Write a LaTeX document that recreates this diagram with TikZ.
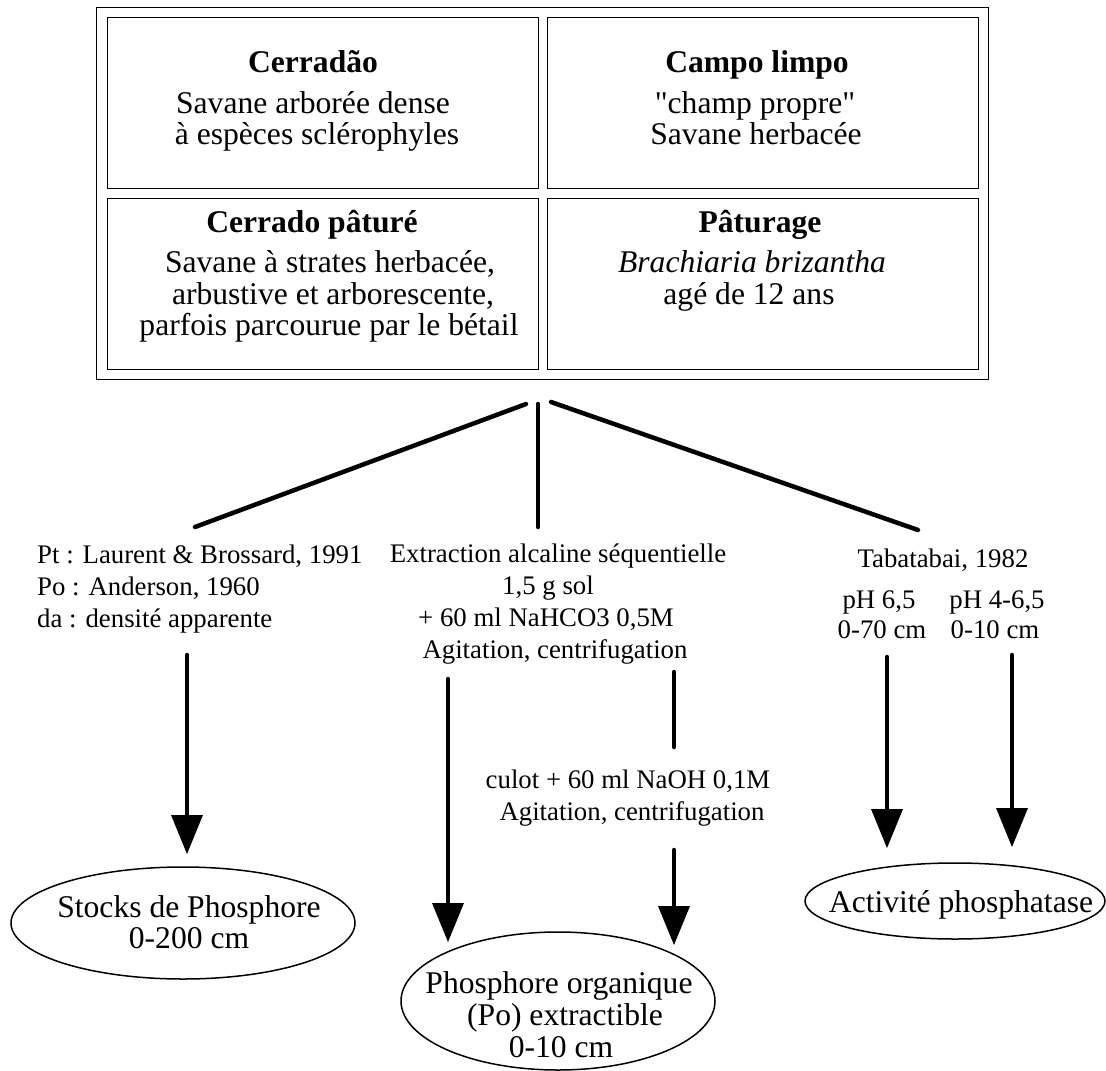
\documentclass[tikz,border=0pt]{standalone}
\usepackage{fontspec}
\setmainfont{Liberation Serif}
\font\qfnt="Liberation Serif" at 31.6pt
\usetikzlibrary{shapes.geometric,arrows.meta}
\begin{document}
\begin{tikzpicture}[x=1pt,y=-1pt,
  cell/.style={draw, line width=1.3pt, rectangle, inner sep=0pt, anchor=north west},
  big/.style={font=\fontsize{31.6}{31.6}\selectfont, inner sep=0pt, anchor=base},
  bigb/.style={font=\fontsize{31.6}{31.6}\selectfont\bfseries, inner sep=0pt, anchor=base},
  bigi/.style={font=\fontsize{31.6}{31.6}\selectfont\itshape, inner sep=0pt, anchor=base},
  small/.style={font=\fontsize{26.8}{32}\selectfont, inner sep=0pt, anchor=base},
  smallw/.style={font=\fontsize{26.8}{32}\selectfont, inner sep=0pt, anchor=base west},
  conn/.style={line width=4.5pt, line cap=round},
  arr/.style={conn, -{Triangle[width=32pt,length=39pt,line width=0pt]}},
  oval/.style={draw, ellipse, line width=1.5pt, inner sep=0pt}
]
\useasboundingbox (0,0) rectangle (1106,1071);

% frame and cells
\node[cell, minimum width=892pt, minimum height=372pt] (frame) at (96,7) {};
\node[cell, minimum width=431pt, minimum height=171pt] (c1) at (107,17) {};
\node[cell, minimum width=431pt, minimum height=171pt] (c2) at (547,17) {};
\node[cell, minimum width=431pt, minimum height=171pt] (c3) at (107,198) {};
\node[cell, minimum width=431pt, minimum height=171pt] (c4) at (547,198) {};

% cell texts
\node[bigb] (t1a) at (313,72) {Cerradão};
\node[big]  (t1b) at (313,113) {Savane arborée dense};
\node[big]  (t1c) at (317,144) {à espèces sclérophyles};

\node[bigb] (t2a) at (757,72) {Campo limpo};
\node[big]  (t2b) at (755,113) {{\qfnt"}champ propre{\qfnt"}};
\node[big]  (t2c) at (756,144) {Savane herbacée};

\node[bigb] (t3a) at (312,232) {Cerrado pâturé};
\node[big]  (t3b) at (330,272) {Savane à strates herbacée,};
\node[big]  (t3c) at (333,304) {arbustive et arborescente,};
\node[big]  (t3d) at (329,335) {parfois parcourue par le bétail};

\node[bigb] (t4a) at (760,232) {Pâturage};
\node[bigi] (t4b) at (752,272) {Brachiaria brizantha};
\node[big]  (t4c) at (749,304) {agé de 12 ans};

% branching connectors
\coordinate (apexL) at (526,404);
\coordinate (apexM) at (538,404);
\coordinate (apexR) at (551,402);
\coordinate (footL) at (195,527);
\coordinate (footM) at (538,527);
\coordinate (footR) at (918,530);
\draw[conn] (apexL) -- (footL);
\draw[conn] (apexM) -- (footM);
\draw[conn] (apexR) -- (footR);

% method texts
\node[smallw] (m1a) at (37,563) {Pt : Laurent \& Brossard, 1991};
\node[smallw] (m1b) at (37,595) {Po : Anderson, 1960};
\node[smallw] (m1c) at (37,627) {da : densité apparente};

\node[small] (m2a) at (558,562) {Extraction alcaline séquentielle};
\node[small] (m2b) at (548,594) {1,5 g sol};
\node[small] (m2c) at (546,626) {+ 60 ml NaHCO3 0,5M};
\node[small] (m2d) at (555,658) {Agitation, centrifugation};

\node[small] (m3a) at (628,788) {culot + 60 ml NaOH 0,1M};
\node[small] (m3b) at (632,820) {Agitation, centrifugation};

\node[small] (m4a) at (943,567) {Tabatabai, 1982};
\node[small] (m4b) at (879,608) {pH 6,5};
\node[small] (m4c) at (882,638) {0-70 cm};
\node[small] (m4d) at (997,608) {pH 4-6,5};
\node[small] (m4e) at (995,638) {0-10 cm};

% result ellipses
\node[oval, minimum width=344pt, minimum height=112pt] (stocks) at (183,923) {};
\node[big] (stocksa) at (189,917) {Stocks de Phosphore};
\node[big] (stocksb) at (189,948) {0-200 cm};

\node[oval, minimum width=314pt, minimum height=138pt] (po) at (558,1001) {};
\node[big] (poa) at (559,993) {Phosphore organique};
\node[big] (pob) at (565,1025) {(Po) extractible};
\node[big] (poc) at (561,1057) {0-10 cm};

\node[oval, minimum width=300pt, minimum height=76pt] (act) at (955,901) {};
\node[big] (acta) at (961,912) {Activité phosphatase};

% arrows
\coordinate (a1s) at (187,655);
\coordinate (a1e) at (187,854);
\coordinate (a2s) at (448,679);
\coordinate (a2e) at (448,942);
\coordinate (s3s) at (674,672);
\coordinate (s3e) at (674,747);
\coordinate (a3s) at (674,850);
\coordinate (a3e) at (674,945);
\coordinate (a4s) at (887,657);
\coordinate (a4e) at (887,848);
\coordinate (a5s) at (1012,655);
\coordinate (a5e) at (1012,847);
\draw[arr] (a1s) -- (a1e);
\draw[arr] (a2s) -- (a2e);
\draw[conn] (s3s) -- (s3e);
\draw[arr] (a3s) -- (a3e);
\draw[arr] (a4s) -- (a4e);
\draw[arr] (a5s) -- (a5e);
\end{tikzpicture}
\end{document}
